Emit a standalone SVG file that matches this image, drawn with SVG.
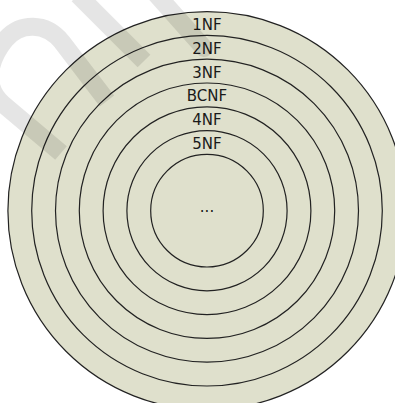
<svg xmlns="http://www.w3.org/2000/svg" width="395" height="403" viewBox="0 0 395 403">
<style>
.ring{fill:#dfe0cc;stroke:#222;stroke-width:1.2}
.lbl{font-family:"DejaVu Sans",sans-serif;font-size:15px;fill:#1a1a1a;text-anchor:middle}
.wm{fill:none;stroke:#000;stroke-opacity:0.1;stroke-width:18}
</style>
<rect width="395" height="403" fill="#fff"/>
<g id="ring-1nf"><circle class="ring" cx="207" cy="210.7" r="199.1"/><text class="lbl" x="207" y="30">1NF</text></g>
<g id="ring-2nf"><circle class="ring" cx="207" cy="210.7" r="175.3"/><text class="lbl" x="207" y="53.8">2NF</text></g>
<g id="ring-3nf"><circle class="ring" cx="207" cy="210.7" r="151.5"/><text class="lbl" x="207" y="77.6">3NF</text></g>
<g id="ring-bcnf"><circle class="ring" cx="207" cy="210.7" r="127.7"/><text class="lbl" x="207" y="101.4">BCNF</text></g>
<g id="ring-4nf"><circle class="ring" cx="207" cy="210.7" r="103.9"/><text class="lbl" x="207" y="125.2">4NF</text></g>
<g id="ring-5nf"><circle class="ring" cx="207" cy="210.7" r="80.1"/><text class="lbl" x="207" y="149">5NF</text></g>
<g id="ring-more"><circle class="ring" cx="207" cy="210.7" r="56.3"/><text class="lbl" x="207" y="212.3">...</text></g>
<g id="watermark">
<path class="wm" d="M 61,153 L 3,104 C -20,84 -8,56 5,40 C 20,22 46,22 62,42 L 107,101"/>
<path class="wm" d="M 78,-5 L 144,61"/>
<path class="wm" stroke-linecap="round" d="M 156,-6 L 204,48"/>
</g>
</svg>
